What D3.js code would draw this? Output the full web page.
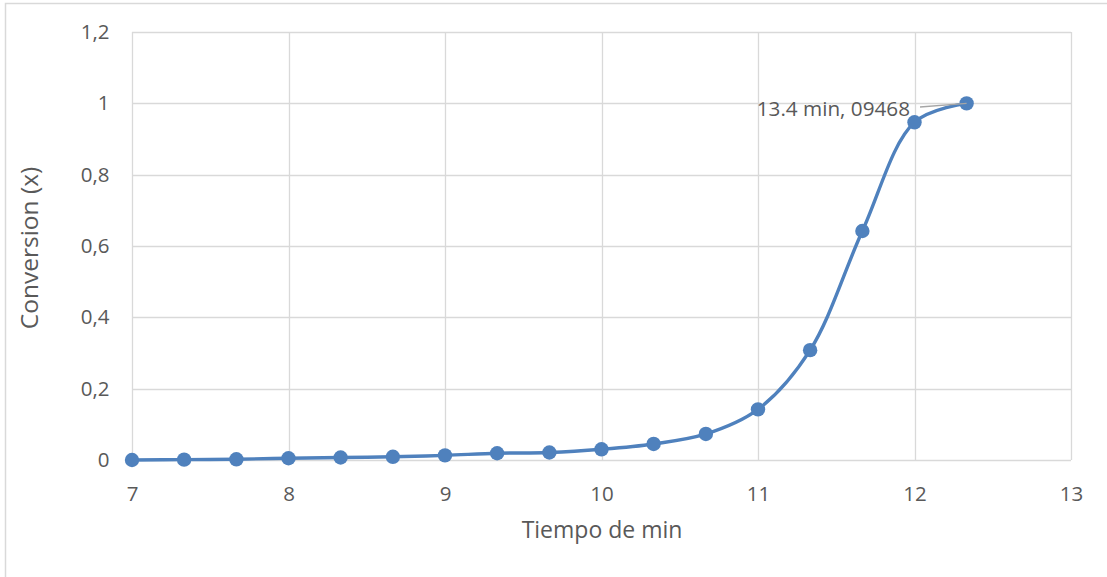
<!DOCTYPE html>
<html>
<head>
<meta charset="utf-8">
<script src="https://cdn.jsdelivr.net/npm/d3@7"></script>
<style>
  html, body { margin: 0; padding: 0; background: #fff; }
  svg text { font-family: "Open Sans", "Noto Sans", sans-serif; fill: #595959; }
</style>
</head>
<body>
<svg id="chart" width="1107" height="577"></svg>
<script>
// Time (min) and conversion values
const tiempo = [7, 7.333, 7.667, 8, 8.333, 8.667, 9, 9.333, 9.667, 10, 10.333, 10.667, 11, 11.333, 11.667, 12, 12.333];
const conversion = [0, 0.001, 0.002, 0.005, 0.007, 0.009, 0.013, 0.019, 0.021, 0.03, 0.045, 0.073, 0.142, 0.308, 0.642, 0.9468, 1.0];
const xTicks = [7, 8, 9, 10, 11, 12, 13];
const yTicks = [0, 0.2, 0.4, 0.6, 0.8, 1, 1.2];
const annotation = { index: 15, text: "13.4 min, 09468" };

const svg = d3.select("#chart");
const W = 1107, H = 577;
const m = { left: 132, right: 36, top: 32, bottom: 117 };

// Chart frame (only top and left edges fall inside the view)
svg.append("path")
  .attr("d", `M5.5,${H} V3.5 H${W}`)
  .attr("fill", "none").attr("stroke", "#d9d9d9").attr("stroke-width", 1.5);

const x = d3.scaleLinear().domain([7, 13]).range([m.left, W - m.right]);
const y = d3.scaleLinear().domain([0, 1.2]).range([H - m.bottom, m.top]);

const fmt = d => d3.format("~g")(d).replace(".", ",");

// Gridlines
const grid = svg.append("g");
grid.selectAll(".gy").data(yTicks).join("line")
  .attr("x1", x(7)).attr("x2", x(13))
  .attr("y1", d => Math.round(y(d)) + 0.5).attr("y2", d => Math.round(y(d)) + 0.5)
  .attr("stroke", "#d9d9d9").attr("stroke-width", 1.3);
grid.selectAll(".gx").data(xTicks).join("line")
  .attr("x1", d => Math.round(x(d)) + 0.5).attr("x2", d => Math.round(x(d)) + 0.5)
  .attr("y1", y(0)).attr("y2", y(1.2))
  .attr("stroke", "#d9d9d9").attr("stroke-width", 1.3);

// Axes drawn through d3-axis, domain/tick lines hidden
const xAxis = svg.append("g").attr("transform", `translate(0,${y(0)})`)
  .call(d3.axisBottom(x).tickValues(xTicks).tickSize(0).tickPadding(26).tickFormat(d3.format("d")));
xAxis.select(".domain").remove();
xAxis.selectAll("text").attr("font-size", 20.5).style("font-family", null).attr("fill", "#595959");

const yAxis = svg.append("g").attr("transform", `translate(${m.left},0)`)
  .call(d3.axisLeft(y).tickValues(yTicks).tickSize(0).tickPadding(22.5).tickFormat(fmt));
yAxis.select(".domain").remove();
yAxis.selectAll("text").attr("font-size", 20.5).style("font-family", null).attr("fill", "#595959");

// Axis titles
svg.append("text").attr("x", 602).attr("y", 538).attr("text-anchor", "middle")
  .attr("font-size", 23).text("Tiempo de min");
svg.append("text").attr("transform", `translate(38,${(y(0) + y(1.2)) / 2 + 2}) rotate(-90)`)
  .attr("text-anchor", "middle").attr("font-size", 24.5).text("Conversion (x)");

// Smoothed series line
const pts = tiempo.map((t, i) => [t, conversion[i]]);
svg.append("path").datum(pts)
  .attr("d", d3.line().x(d => x(d[0])).y(d => y(d[1])).curve(d3.curveCatmullRom.alpha(0.5)))
  .attr("fill", "none").attr("stroke", "#4f81bd").attr("stroke-width", 3.4)
  .attr("stroke-linecap", "round");

// Markers
svg.selectAll(".pt").data(pts).join("circle")
  .attr("cx", d => x(d[0])).attr("cy", d => y(d[1])).attr("r", 7.2)
  .attr("fill", "#4f81bd");

// Data label with leader line
const lx = x(tiempo[annotation.index + 1]), ly = y(conversion[annotation.index + 1]);
svg.append("line").attr("x1", 920).attr("y1", 107).attr("x2", lx).attr("y2", ly)
  .attr("stroke", "#a6a6a6").attr("stroke-width", 1.3);
svg.append("text").attr("x", 910).attr("y", 116).attr("text-anchor", "end")
  .attr("font-size", 20.7).text(annotation.text);
</script>
</body>
</html>
